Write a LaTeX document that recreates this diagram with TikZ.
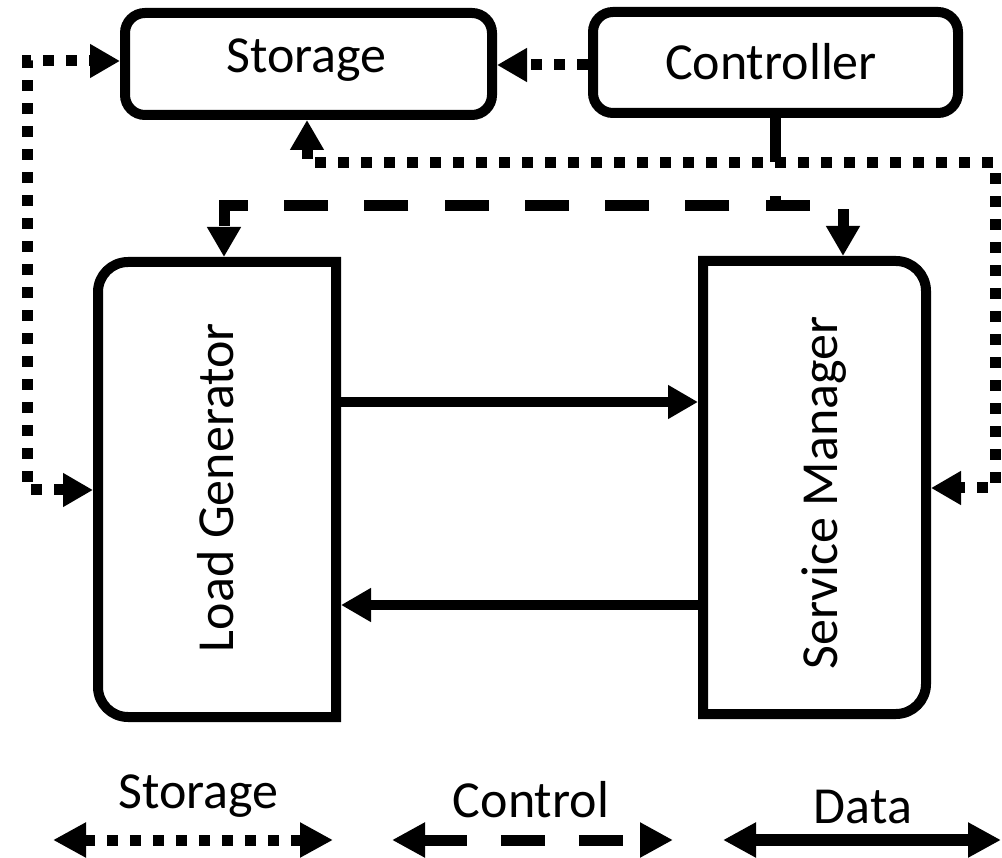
\documentclass[tikz,border=0pt]{standalone}
\usepackage{fontspec}
\setmainfont{Carlito}
\usetikzlibrary{arrows.meta}

\tikzset{
  x=1pt, y=-1pt,
  lbl/.style={inner sep=0pt, font=\fontsize{52}{60}\selectfont},
  roundbox/.style={draw, line width=10pt, rounded corners=20pt, inner sep=0pt},
  panel/.style={inner sep=0pt, outer sep=0pt},
  panelline/.style={line width=10pt, line join=miter},
  tip/.style={-{Triangle[length=30pt,width=32pt]}},
  bothtips/.style={{Triangle[length=30pt,width=32pt]}-{Triangle[length=30pt,width=32pt]}},
  legendtips/.style={{Triangle[length=33pt,width=33pt]}-{Triangle[length=33pt,width=33pt]}},
  storeline/.style={line width=11pt, dash pattern=on 11pt off 12pt},
  ctrlline/.style={line width=11pt, dash pattern=on 44pt off 34pt},
  dataline/.style={line width=10pt},
}

\begin{document}
\begin{tikzpicture}
\useasboundingbox (0,0) rectangle (1002,858);

% components
\node[roundbox, minimum width=367pt, minimum height=102pt] (st) at (308.5,64) {};
\node[lbl, anchor=base] (st-text) at (306.5,73) {Storage};

\node[roundbox, minimum width=365pt, minimum height=101pt] (ct) at (775.5,62.5) {};
\node[lbl, anchor=base] (ct-text) at (771,80) {Controller};

% load generator: rounded on the left side only
\node[panel, minimum width=248pt, minimum height=465pt] (lg) at (217,489.5) {};
\draw[panelline] (336,262) -- (336,717) -- (128,717)
  arc[start angle=90, end angle=180, radius=30] -- (98,292)
  arc[start angle=180, end angle=270, radius=30] -- cycle;
\node[lbl, rotate=90, anchor=base] (lg-text) at (233,487.5) {Load Generator};

% service manager: rounded on the right side only
\node[panel, minimum width=233pt, minimum height=463pt] (sm) at (814.5,487.5) {};
\draw[panelline] (703,261) -- (703,714) -- (896,714)
  arc[start angle=90, end angle=0, radius=30] -- (926,291)
  arc[start angle=0, end angle=-90, radius=30] -- cycle;
\node[lbl, rotate=90, anchor=base] (sm-text) at (837,493) {Service Manager};

% routing points
\coordinate (leftrail) at (27,300);
\coordinate (rightrail) at (995,163);
\coordinate (bus) at (500,206);

% storage links
\draw[storeline, bothtips] ([yshift=-0.5pt]lg.west) -| (leftrail) |- ([yshift=3pt]st.west);
\draw[storeline, bothtips] ([xshift=-1.5pt]st.south) |- (rightrail) |- ([yshift=-0.5pt]sm.east);
\draw[storeline, tip] ([yshift=-2.5pt]ct.west) -- ([yshift=-2.5pt]ct.west -| st.east);

% control links
\draw[ctrlline, bothtips, dash pattern=on 44pt off 36.25pt, dash phase=25pt]
  ([xshift=28.5pt]sm.north) |- (bus) -| ([xshift=7pt]lg.north);
\draw[ctrlline] ([xshift=-0.5pt]ct.south) -- ([xshift=-0.5pt]ct.south |- bus);

% data links
\draw[dataline, tip] ([yshift=87.5pt]lg.east) -- ([yshift=87.5pt]lg.east -| sm.west);
\draw[dataline, tip] ([yshift=-117.5pt]sm.west) -- ([yshift=-117.5pt]sm.west -| lg.east);

% legend
\coordinate (ls-a) at (53,840);
\coordinate (ls-b) at (333,840);
\coordinate (lc-a) at (392,840);
\coordinate (lc-b) at (673,840);
\coordinate (ld-a) at (723,840);
\coordinate (ld-b) at (1001,840);
\draw[storeline, legendtips] (ls-a) -- (ls-b);
\draw[ctrlline, legendtips] (lc-a) -- (lc-b);
\draw[dataline, line width=12pt, legendtips] (ld-a) -- (ld-b);
\node[lbl, anchor=base] (leg-store) at (198.5,808) {Storage};
\node[lbl, anchor=base] (leg-ctrl) at (531,817) {Control};
\node[lbl, anchor=base] (leg-data) at (863,823) {Data};
\end{tikzpicture}
\end{document}
